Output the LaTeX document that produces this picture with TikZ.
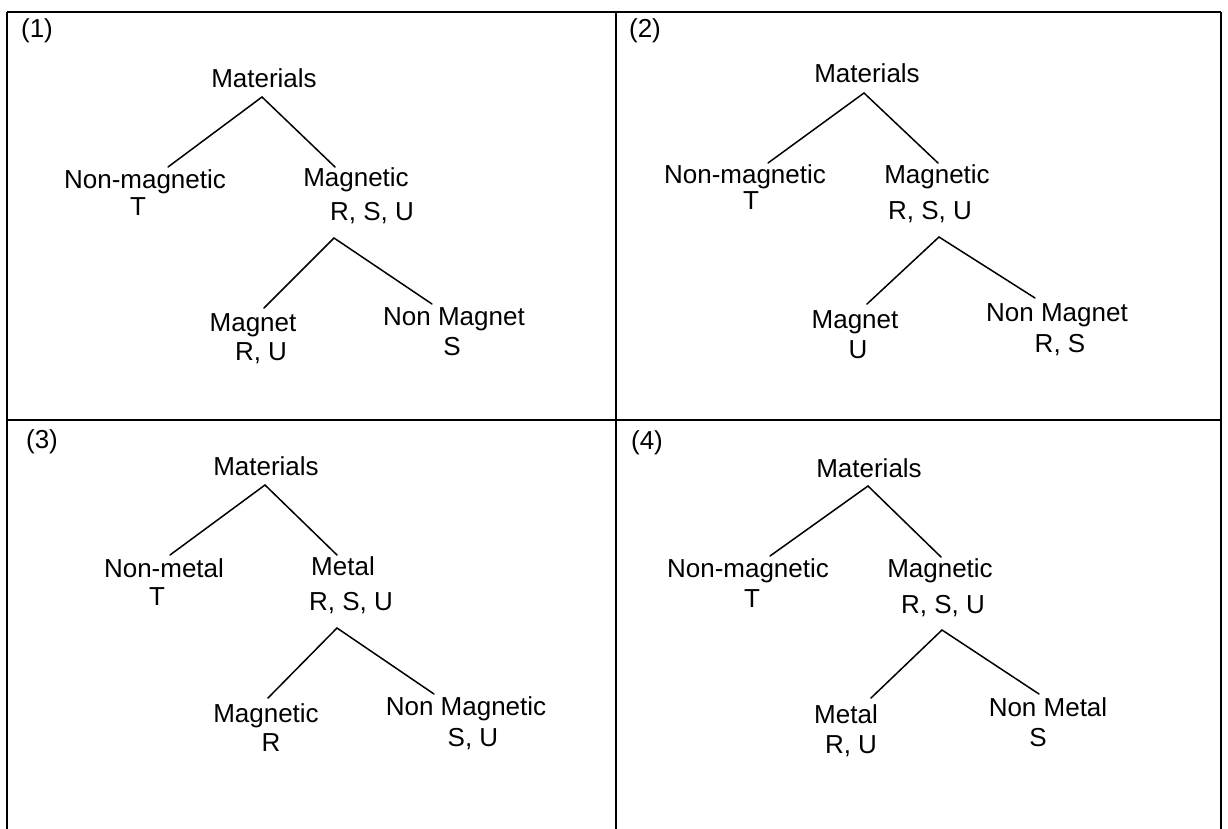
\documentclass[tikz,border=0pt]{standalone}
\usepackage{fontspec}
\setmainfont{Liberation Sans}
\begin{document}
\begin{tikzpicture}[x=1pt,y=-1pt,
  lbl/.style={anchor=base, inner sep=0pt, font=\fontsize{26}{30}\selectfont},
  branch/.style={line width=1.5pt, line cap=round},
  frame/.style={line width=1.7pt}]
\useasboundingbox (0,0) rectangle (1228,829);
\fill[white] (0,0) rectangle (1228,829);

% grid of four panels
\draw[frame] (7,12) -- (1221,12);
\draw[frame] (7,420) -- (1221,420);
\draw[frame] (7,12) -- (7,829);
\draw[frame] (616,12) -- (616,829);
\draw[frame] (1221,12) -- (1221,829);

% ---------- panel (1) ----------
\node[lbl] (n1)   at (37,38)   {(1)};
\node[lbl] (m1)   at (264,88)  {Materials};
\node[lbl] (a1)   at (145,189) {Non-magnetic};
\node[lbl] (a1x)  at (138,215) {T};
\node[lbl] (b1)   at (356,187) {Magnetic};
\node[lbl] (b1x)  at (372,220) {R, S, U};
\node[lbl] (c1)   at (253,331) {Magnet};
\node[lbl] (c1x)  at (261,360) {R, U};
\node[lbl] (d1)   at (454,325) {Non Magnet};
\node[lbl] (d1x)  at (452,355) {S};
\coordinate (t1) at (262,97);
\coordinate (l1) at (168,167);
\coordinate (r1) at (335,167);
\coordinate (u1) at (334,238);
\coordinate (v1) at (264,308);
\coordinate (w1) at (432,304);
\draw[branch] (l1) -- (t1) -- (r1);
\draw[branch] (v1) -- (u1) -- (w1);

% ---------- panel (2) ----------
\node[lbl] (n2)   at (645,38)  {(2)};
\node[lbl] (m2)   at (867,83)  {Materials};
\node[lbl] (a2)   at (745,183) {Non-magnetic};
\node[lbl] (a2x)  at (751,210) {T};
\node[lbl] (b2)   at (937,183) {Magnetic};
\node[lbl] (b2x)  at (930,219) {R, S, U};
\node[lbl] (c2)   at (855,328) {Magnet};
\node[lbl] (c2x)  at (858,358) {U};
\node[lbl] (d2)   at (1057,321) {Non Magnet};
\node[lbl] (d2x)  at (1060,352) {R, S};
\coordinate (t2) at (864,93);
\coordinate (l2) at (768,163);
\coordinate (r2) at (938,163);
\coordinate (u2) at (939,237);
\coordinate (v2) at (867,304);
\coordinate (w2) at (1035,298);
\draw[branch] (l2) -- (t2) -- (r2);
\draw[branch] (v2) -- (u2) -- (w2);

% ---------- panel (3) ----------
\node[lbl] (n3)   at (42,448)  {(3)};
\node[lbl] (m3)   at (266,475) {Materials};
\node[lbl] (a3)   at (164,577) {Non-metal};
\node[lbl] (a3x)  at (157,605) {T};
\node[lbl] (b3)   at (343,575) {Metal};
\node[lbl] (b3x)  at (351,610) {R, S, U};
\node[lbl] (c3)   at (266,722) {Magnetic};
\node[lbl] (c3x)  at (271,751) {R};
\node[lbl] (d3)   at (466,715) {Non Magnetic};
\node[lbl] (d3x)  at (473,746) {S, U};
\coordinate (t3) at (265,485);
\coordinate (l3) at (170,555);
\coordinate (r3) at (337,555);
\coordinate (u3) at (337,628);
\coordinate (v3) at (268,698);
\coordinate (w3) at (434,694);
\draw[branch] (l3) -- (t3) -- (r3);
\draw[branch] (v3) -- (u3) -- (w3);

% ---------- panel (4) ----------
\node[lbl] (n4)   at (647,449) {(4)};
\node[lbl] (m4)   at (869,477) {Materials};
\node[lbl] (a4)   at (748,577) {Non-magnetic};
\node[lbl] (a4x)  at (752,607) {T};
\node[lbl] (b4)   at (940,577) {Magnetic};
\node[lbl] (b4x)  at (943,613) {R, S, U};
\node[lbl] (c4)   at (846,723) {Metal};
\node[lbl] (c4x)  at (851,753) {R, U};
\node[lbl] (d4)   at (1048,716) {Non Metal};
\node[lbl] (d4x)  at (1038,746) {S};
\coordinate (t4) at (868,486);
\coordinate (l4) at (770,556);
\coordinate (r4) at (941,557);
\coordinate (u4) at (942,630);
\coordinate (v4) at (871,698);
\coordinate (w4) at (1039,694);
\draw[branch] (l4) -- (t4) -- (r4);
\draw[branch] (v4) -- (u4) -- (w4);
\end{tikzpicture}
\end{document}
